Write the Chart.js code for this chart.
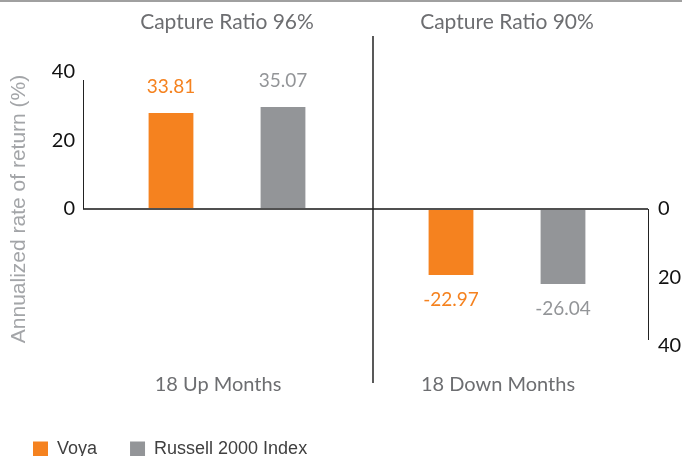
<!DOCTYPE html>
<html>
<head>
<meta charset="utf-8">
<script src="https://cdn.jsdelivr.net/npm/chart.js@4"></script>
<style>
body { margin: 0; background: #fff; }
</style>
</head>
<body>
<canvas id="mycanvas" width="682" height="456"></canvas>
<script>
// data
var categories = ['18 Up Months', '18 Down Months'];
var ratioLabels = ['Capture Ratio 96%', 'Capture Ratio 90%'];
var voyaValues = [28.0, -19.3];
var russellValues = [29.8, -21.9];
var voyaText = ['33.81', '-22.97'];
var russellText = ['35.07', '-26.04'];

var orange = '#f5821f';
var gray = '#939598';
var textGray = '#6d6e71';
var baseFont = 'Lato';

// frame lines: top rule, zero line, half axes, divider
var linesPlugin = {
  id: 'lines',
  beforeDraw: function(chart) {
    var c = chart.ctx;
    c.save();
    c.fillStyle = '#a0a0a0';
    c.fillRect(0, 0, chart.width, 2);
    c.restore();
  },
  afterDatasetsDraw: function(chart) {
    var c = chart.ctx;
    var a = chart.chartArea;
    var y = chart.scales.y;
    var x = chart.scales.x;
    var y0 = y.getPixelForValue(0);
    c.save();
    // zero line
    c.strokeStyle = '#505050';
    c.lineWidth = 2;
    c.beginPath();
    c.moveTo(a.left - 4, y0);
    c.lineTo(a.right + 1, y0);
    c.stroke();
    // left axis (upper half) and right axis (lower half)
    c.strokeStyle = '#222';
    c.lineWidth = 1;
    c.beginPath();
    c.moveTo(a.left - 3.5, a.top + 8);
    c.lineTo(a.left - 3.5, y0);
    c.moveTo(a.right + 1.5, y0);
    c.lineTo(a.right + 1.5, a.bottom - 6);
    c.stroke();
    // divider between up and down months
    var mid = (x.getPixelForValue(0) + x.getPixelForValue(1)) / 2 + 6;
    c.lineWidth = 1.5;
    c.beginPath();
    c.moveTo(mid, a.top - 36);
    c.lineTo(mid, a.bottom + 37);
    c.stroke();
    c.restore();
  }
};

var valueLabels = {
  id: 'valueLabels',
  afterDatasetsDraw: function(chart) {
    var c = chart.ctx;
    var texts = [voyaText, russellText];
    c.save();
    c.font = '19px ' + baseFont;
    c.textAlign = 'center';
    c.textBaseline = 'middle';
    chart.data.datasets.forEach(function(ds, i) {
      c.fillStyle = ds.backgroundColor;
      chart.getDatasetMeta(i).data.forEach(function(bar, j) {
        var up = ds.data[j] >= 0;
        c.fillText(texts[i][j], bar.x, up ? bar.y - 26 : bar.y + 25);
      });
    });
    c.restore();
  }
};

var chartdata = {
  labels: categories,
  datasets: [
    { label: 'Voya', data: voyaValues, backgroundColor: orange, categoryPercentage: 0.8, barPercentage: 0.4 },
    { label: 'Russell 2000 Index', data: russellValues, backgroundColor: gray, categoryPercentage: 0.8, barPercentage: 0.4 }
  ]
};

var ctx = document.querySelector('#mycanvas');

var barGraph = new Chart(ctx, {
  type: 'bar',
  data: chartdata,
  plugins: [linesPlugin, valueLabels],
  options: {
    responsive: false,
    animation: false,
    layout: { padding: { left: 0, right: 0, top: 0, bottom: -12 } },
    plugins: {
      legend: {
        position: 'bottom',
        align: 'start',
        labels: {
          boxWidth: 15,
          boxHeight: 15,
          padding: 33,
          color: '#404040',
          font: { family: 'Liberation Sans', size: 18 }
        }
      },
      tooltip: { enabled: false }
    },
    scales: {
      x: {
        position: 'bottom',
        offset: true,
        grid: { display: false, drawTicks: false },
        border: { display: false },
        ticks: { padding: 27, labelOffset: -9, color: textGray, font: { family: baseFont, size: 20 } },
        afterFit: function(s) { s.height = 61; }
      },
      x2: {
        type: 'category',
        labels: ratioLabels,
        position: 'top',
        offset: true,
        grid: { display: false, drawTicks: false },
        border: { display: false },
        ticks: { padding: 37, color: textGray, font: { family: baseFont, size: 21 } },
        afterFit: function(s) { s.height = 72; }
      },
      y: {
        min: -40,
        max: 40,
        grid: { display: false, drawTicks: false },
        border: { display: false },
        ticks: {
          stepSize: 20,
          padding: 12,
          color: '#111',
          font: { family: baseFont, size: 20 },
          callback: function(v) { return v >= 0 ? v : ''; }
        },
        title: {
          display: true,
          text: 'Annualized rate of return (%)',
          color: '#a3a5a8',
          font: { family: 'Liberation Sans', size: 21 },
          padding: { top: 7, bottom: 0 }
        },
        afterFit: function(s) { s.width = 87; }
      },
      y2: {
        position: 'right',
        min: -40,
        max: 40,
        grid: { display: false, drawTicks: false },
        border: { display: false },
        ticks: {
          stepSize: 20,
          padding: 11,
          color: '#111',
          font: { family: baseFont, size: 20 },
          callback: function(v) { return v <= 0 ? Math.abs(v) : ''; }
        },
        afterFit: function(s) { s.width = 35; }
      }
    }
  }
});
</script>
</body>
</html>
